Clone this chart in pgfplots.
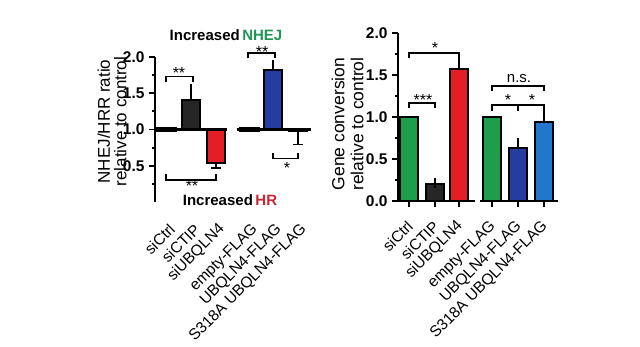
\documentclass[border=0pt]{standalone}
\usepackage{pgfplots}
\pgfplotsset{compat=1.18}
\usepackage{fontspec}
\setmainfont{Liberation Sans}
\definecolor{cgreen}{RGB}{30,158,75}
\definecolor{cblack}{RGB}{38,38,38}
\definecolor{cred}{RGB}{228,30,38}
\definecolor{cblue}{RGB}{35,62,160}
\definecolor{clblue}{RGB}{35,118,205}
\definecolor{cllblue}{RGB}{85,150,210}
\definecolor{tgreen}{RGB}{30,150,85}
\definecolor{tred}{RGB}{200,40,50}
\begin{document}
\begin{tikzpicture}
\path[use as bounding box] (0pt,0pt) rectangle (640pt,346pt);
\pgfplotsset{
  common/.style={scale only axis, clip=false, axis lines*=left,
    x axis line style={draw=none}, y axis line style={line width=2.2pt},
    tick align=outside, major tick length=6pt, minor tick length=3pt,
    tick style={black, line width=1.8pt},
    yticklabel style={font=\fontsize{15.5}{16}\selectfont\bfseries, xshift=-1pt},
    /pgf/number format/assume math mode=true,
    minor ytick={0.25,0.75,1.25,1.75},
    xticklabels={siCtrl,siCTIP,siUBQLN4,empty-FLAG,UBQLN4-FLAG,S318A UBQLN4-FLAG}},
  bb/.style={ybar, bar width=18pt, bar shift=0pt, draw=black, line width=1.5pt, fill=#1},
  pb/.style={draw=black, line width=1.5pt, fill=#1},
  eb/.style={black, line width=1.5pt, no marks, error bars/.cd, y dir=#1, y explicit,
    error bar style={line width=1.5pt, black},
    error mark options={line width=1.5pt, mark size=5pt, black}},
  el/.style={black, line width=1.5pt, no marks},
  br/.style={line width=1.8pt, black, no marks},
}
% ---------- left chart (bars start at 1.0) ----------
\begin{axis}[common, at={(155pt,144pt)}, anchor=south west, width=157pt, height=145pt,
  xmin=155, xmax=312, ymin=0, ymax=2,
  ytick={0.5,1,1.5,2}, yticklabels={0.5,1.0,1.5,2.0},
  xtick={166,191,216,249,273,298}, xtick style={draw=none},
  xticklabel style={font=\fontsize{15.5}{16}\selectfont, xshift=7pt, yshift=-18pt, rotate=45, anchor=east, inner sep=1pt}]
\addplot[pb=cblack] coordinates {(182,1) (182,1.41) (200,1.41) (200,1)} -- cycle;
\addplot[pb=cred] coordinates {(207,1) (207,0.54) (225,0.54) (225,1)} -- cycle;
\addplot[pb=cblue] coordinates {(264,1) (264,1.82) (282,1.82) (282,1)} -- cycle;
\addplot[pb=cllblue] coordinates {(289,1) (289,0.97) (307,0.97) (307,1)} -- cycle;
\addplot[eb=plus] coordinates {(191,1.41) +- (0,0.15)};
\addplot[eb=plus] coordinates {(273,1.82) +- (0,0.07)};
% downward error bars (mean - SEM)
\addplot[el] coordinates {(216,0.54) (216,0.47)};
\addplot[el] coordinates {(211,0.47) (221,0.47)};
\addplot[el] coordinates {(298,0.97) (298,0.79)};
\addplot[el] coordinates {(293,0.79) (303,0.79)};
\addplot[line width=3pt, black, no marks] coordinates {(155,1) (227,1)};
\addplot[line width=3pt, black, no marks] coordinates {(237,1) (311,1)};
\addplot[line width=5pt, black, no marks] coordinates {(156,1) (177,1)};
\addplot[line width=5pt, black, no marks] coordinates {(239,1) (260,1)};
\addplot[br] coordinates {(166,1.65) (166,1.73) (193,1.73) (193,1.65)};
\addplot[br] coordinates {(166,0.38) (166,0.30) (216,0.30) (216,0.38)};
\addplot[br] coordinates {(248,1.98) (248,2.06) (275,2.06) (275,1.98)};
\addplot[br] coordinates {(273,0.67) (273,0.60) (298,0.60) (298,0.67)};
\end{axis}
% ---------- right chart ----------
\begin{axis}[common, at={(398pt,145pt)}, anchor=south west, width=162pt, height=168pt,
  xmin=398, xmax=560, ymin=0, ymax=2,
  ytick={0,0.5,1,1.5,2}, yticklabels={0.0,0.5,1.0,1.5,2.0},
  xtick={409,435,459,492,518,544},
  xticklabel style={font=\fontsize{15.5}{16}\selectfont, xshift=2pt, yshift=-16pt, rotate=45, anchor=east, inner sep=1pt}]
\addplot[bb=cgreen] coordinates {(409,1.0)};
\addplot[bb=cblack] coordinates {(435,0.20)};
\addplot[bb=cred] coordinates {(459,1.57)};
\addplot[bb=cgreen] coordinates {(492,1.0)};
\addplot[bb=cblue] coordinates {(518,0.63)};
\addplot[bb=clblue] coordinates {(544,0.94)};
\addplot[eb=plus] coordinates {(435,0.20) +- (0,0.02)};
\addplot[eb=plus] coordinates {(459,1.57) +- (0,0.08)};
\addplot[eb=plus] coordinates {(518,0.63) +- (0,0.06)};
\addplot[eb=plus] coordinates {(544,0.94) +- (0,0.11)};
\addplot[line width=2.5pt, black, no marks] coordinates {(398,0) (475,0)};
\addplot[line width=2.5pt, black, no marks] coordinates {(480,0) (558,0)};
\addplot[br] coordinates {(409,1.70) (409,1.76) (459,1.76) (459,1.70)};
\addplot[br] coordinates {(409,1.11) (409,1.17) (435,1.17) (435,1.11)};
\addplot[br] coordinates {(492,1.31) (492,1.37) (544,1.37) (544,1.31)};
\addplot[br] coordinates {(492,1.07) (492,1.14) (544,1.14) (544,1.07)};
\addplot[br] coordinates {(518,1.14) (518,1.07)};
\end{axis}
% ---------- text ----------
\node[rotate=90, align=center, font=\fontsize{17}{16.5}\selectfont] at (112pt,224.5pt) {NHEJ/HRR ratio\\relative to control};
\node[rotate=90, align=center, font=\fontsize{17.5}{19}\selectfont] at (347.5pt,222pt) {Gene conversion\\relative to control};
\node[font=\fontsize{15}{15}\selectfont\bfseries] at (226pt,311pt) {Increased\,\textcolor{tgreen}{NHEJ}};
\node[font=\fontsize{15}{15}\selectfont\bfseries] at (230pt,146pt) {Increased\,\textcolor{tred}{HR}};
\begin{scope}[every node/.style={font=\fontsize{16}{16}\selectfont, anchor=base, inner sep=0pt}]
\node at (179pt,267pt) {**};
\node at (192pt,154pt) {**};
\node at (262pt,288pt) {**};
\node at (287pt,172pt) {*};
\node at (435pt,292pt) {*};
\node at (423pt,240pt) {***};
\node at (508pt,240pt) {*};
\node at (532pt,240pt) {*};
\node[font=\fontsize{15}{15}\selectfont] at (519pt,263pt) {n.s.};
\end{scope}
\end{tikzpicture}
\end{document}
